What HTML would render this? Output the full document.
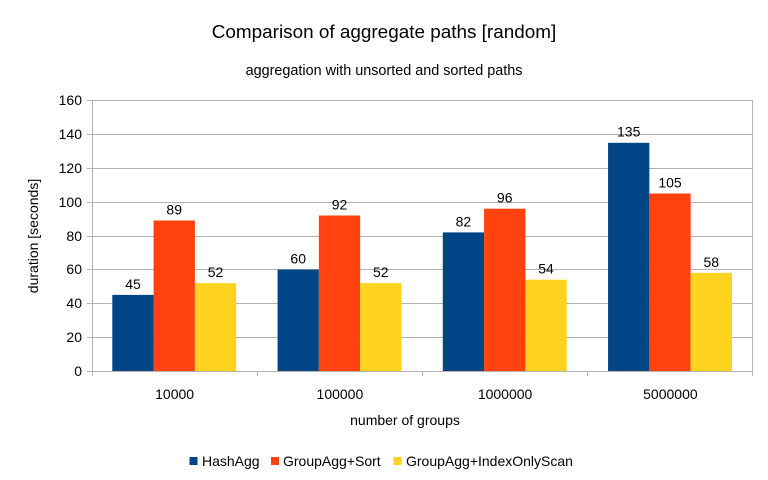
<!DOCTYPE html>
<html><head><meta charset="utf-8"><style>
html,body{margin:0;padding:0;background:#fff}
svg{display:block;font-family:"Liberation Sans",sans-serif}
</style></head><body>
<svg width="768" height="480" viewBox="0 0 768 480" xmlns="http://www.w3.org/2000/svg">
<rect width="768" height="480" fill="#fff"/>
<text x="384" y="38" font-size="18.9" text-anchor="middle" fill="#000">Comparison of aggregate paths [random]</text>
<text x="384" y="75" font-size="14.4" text-anchor="middle" fill="#000">aggregation with unsorted and sorted paths</text>
<g stroke="#b3b3b3" stroke-width="1">
<line x1="92" y1="100.5" x2="753" y2="100.5"/>
<line x1="92" y1="134.5" x2="753" y2="134.5"/>
<line x1="92" y1="168.5" x2="753" y2="168.5"/>
<line x1="92" y1="202.5" x2="753" y2="202.5"/>
<line x1="92" y1="236.5" x2="753" y2="236.5"/>
<line x1="92" y1="269.5" x2="753" y2="269.5"/>
<line x1="92" y1="303.5" x2="753" y2="303.5"/>
<line x1="92" y1="337.5" x2="753" y2="337.5"/>
<line x1="92.5" y1="100" x2="92.5" y2="376"/>
<line x1="752.5" y1="100" x2="752.5" y2="376"/>
<line x1="87" y1="100.5" x2="92" y2="100.5"/>
<line x1="87" y1="134.5" x2="92" y2="134.5"/>
<line x1="87" y1="168.5" x2="92" y2="168.5"/>
<line x1="87" y1="202.5" x2="92" y2="202.5"/>
<line x1="87" y1="236.5" x2="92" y2="236.5"/>
<line x1="87" y1="269.5" x2="92" y2="269.5"/>
<line x1="87" y1="303.5" x2="92" y2="303.5"/>
<line x1="87" y1="337.5" x2="92" y2="337.5"/>
<line x1="87" y1="371.5" x2="92" y2="371.5"/>
<line x1="257.5" y1="371" x2="257.5" y2="376"/>
<line x1="422.5" y1="371" x2="422.5" y2="376"/>
<line x1="587.5" y1="371" x2="587.5" y2="376"/>
</g>
<g>
<rect x="112.3" y="294.9" width="41.3" height="76.1" fill="#004586"/>
<rect x="153.6" y="220.5" width="41.3" height="150.5" fill="#ff420e"/>
<rect x="194.9" y="283.1" width="41.3" height="87.9" fill="#ffd320"/>
<rect x="277.55" y="269.6" width="41.3" height="101.4" fill="#004586"/>
<rect x="318.85" y="215.5" width="41.3" height="155.5" fill="#ff420e"/>
<rect x="360.15" y="283.1" width="41.3" height="87.9" fill="#ffd320"/>
<rect x="442.8" y="232.4" width="41.3" height="138.6" fill="#004586"/>
<rect x="484.1" y="208.7" width="41.3" height="162.3" fill="#ff420e"/>
<rect x="525.4" y="279.7" width="41.3" height="91.3" fill="#ffd320"/>
<rect x="608.05" y="142.8" width="41.3" height="228.2" fill="#004586"/>
<rect x="649.35" y="193.5" width="41.3" height="177.5" fill="#ff420e"/>
<rect x="690.65" y="272.9" width="41.3" height="98.1" fill="#ffd320"/>
</g>
<line x1="92" y1="371.5" x2="753" y2="371.5" stroke="#b3b3b3"/>
<g font-size="14" fill="#000" text-anchor="middle">
<text x="133" y="289">45</text>
<text x="174.2" y="214.5">89</text>
<text x="215.5" y="277">52</text>
<text x="298.2" y="263.5">60</text>
<text x="339.5" y="209.5">92</text>
<text x="380.8" y="277">52</text>
<text x="463.4" y="226.5">82</text>
<text x="504.7" y="202.5">96</text>
<text x="546" y="273.5">54</text>
<text x="628.7" y="136.5">135</text>
<text x="670" y="187.5">105</text>
<text x="711.3" y="267">58</text>
</g>
<g font-size="14" fill="#000" text-anchor="end">
<text x="82" y="105">160</text>
<text x="82" y="139">140</text>
<text x="82" y="173">120</text>
<text x="82" y="207">100</text>
<text x="82" y="241">80</text>
<text x="82" y="274">60</text>
<text x="82" y="308">40</text>
<text x="82" y="342">20</text>
<text x="82" y="376">0</text>
</g>
<g font-size="14" fill="#000" text-anchor="middle">
<text x="174.6" y="399">10000</text>
<text x="339.9" y="399">100000</text>
<text x="505.1" y="399">1000000</text>
<text x="670.4" y="399">5000000</text>
<text x="405" y="425">number of groups</text>
<text transform="translate(38,236) rotate(-90)">duration [seconds]</text>
</g>
<rect x="189.5" y="457" width="8" height="8" fill="#004586"/>
<rect x="271" y="457" width="8" height="8" fill="#ff420e"/>
<rect x="393.5" y="457" width="8" height="8" fill="#ffd320"/>
<g font-size="14" fill="#000">
<text x="202" y="466">HashAgg</text>
<text x="283" y="466">GroupAgg+Sort</text>
<text x="406" y="466">GroupAgg+IndexOnlyScan</text>
</g>
</svg>
</body></html>
